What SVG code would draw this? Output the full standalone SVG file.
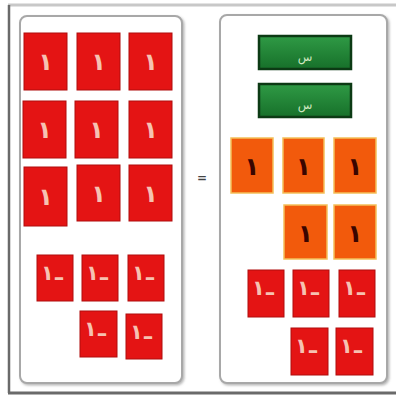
<svg xmlns="http://www.w3.org/2000/svg" width="396" height="398" viewBox="0 0 396 398">
<defs>
<linearGradient id="gr" x1="0" y1="0" x2="0" y2="1">
<stop offset="0" stop-color="#2f9a45"/><stop offset="1" stop-color="#17702a"/>
</linearGradient>
<filter id="sh" x="-5%" y="-5%" width="110%" height="110%"><feDropShadow dx="1.5" dy="1.5" stdDeviation="1.2" flood-color="#888" flood-opacity="0.6"/></filter>
</defs>
<style>
.panel{fill:#fff;stroke:#a8a8a8;stroke-width:2}
.red{fill:#e41414;stroke:#b00c0c;stroke-width:1}
.org{fill:#f25a0c;stroke:#f3c05a;stroke-width:1.5}
.grn{fill:url(#gr);stroke:#0c3a14;stroke-width:2.5}
.tr{font-family:"DejaVu Sans",sans-serif;font-size:24px;fill:#f6c2b2;text-anchor:middle;font-weight:bold}
.tn{font-family:"DejaVu Sans",sans-serif;font-size:21px;fill:#f6c2b2;font-weight:bold}
.to{font-family:"DejaVu Sans",sans-serif;font-size:25px;fill:#3a0500;text-anchor:middle;font-weight:bold}
.tg{font-family:"DejaVu Sans",sans-serif;font-size:12px;fill:#cfe8c0;text-anchor:middle}
.eq{font-family:"DejaVu Sans",sans-serif;font-size:12px;fill:#444;text-anchor:middle;font-weight:bold}
</style>
<rect width="396" height="398" fill="#fff"/>
<g id="frame">
<line x1="8" y1="5" x2="396" y2="5" stroke="#c8c8c8" stroke-width="3"/>
<line x1="9" y1="5" x2="9" y2="393" stroke="#6a6a6a" stroke-width="2.5"/>
<line x1="8" y1="393" x2="396" y2="393" stroke="#6a6a6a" stroke-width="3"/>
</g>
<g id="left-panel"><rect class="panel" x="20" y="16" width="162" height="367" rx="7" filter="url(#sh)"/></g>
<g id="right-panel"><rect class="panel" x="220" y="15" width="167" height="368" rx="7" filter="url(#sh)"/></g>
<g id="left-ones">
<rect class="red" x="24" y="33" width="43" height="57"/><text class="tr" x="45.5" y="70">۱</text>
<rect class="red" x="77" y="33" width="43" height="57"/><text class="tr" x="98.5" y="70">۱</text>
<rect class="red" x="129" y="33" width="43" height="57"/><text class="tr" x="150.5" y="70">۱</text>
<rect class="red" x="23" y="101" width="43" height="57"/><text class="tr" x="44.5" y="138">۱</text>
<rect class="red" x="75" y="101" width="43" height="57"/><text class="tr" x="96.5" y="138">۱</text>
<rect class="red" x="129" y="101" width="43" height="57"/><text class="tr" x="150.5" y="138">۱</text>
<rect class="red" x="24" y="167" width="43" height="59"/><text class="tr" x="45.5" y="205">۱</text>
<rect class="red" x="77" y="165" width="43" height="56"/><text class="tr" x="98.5" y="202">۱</text>
<rect class="red" x="129" y="165" width="43" height="56"/><text class="tr" x="150.5" y="202">۱</text>
</g>
<g id="left-negs">
<rect class="red" x="37" y="255" width="36" height="46"/><text class="tn" x="41" y="280">۱<tspan dy="5">–</tspan></text>
<rect class="red" x="82" y="255" width="36" height="46"/><text class="tn" x="86" y="280">۱<tspan dy="5">–</tspan></text>
<rect class="red" x="128" y="255" width="36" height="46"/><text class="tn" x="132" y="280">۱<tspan dy="5">–</tspan></text>
<rect class="red" x="80" y="311" width="37" height="46"/><text class="tn" x="84" y="336">۱<tspan dy="5">–</tspan></text>
<rect class="red" x="126" y="314" width="36" height="45"/><text class="tn" x="130" y="339">۱<tspan dy="5">–</tspan></text>
</g>
<g id="equals"><text class="eq" x="202" y="182">=</text></g>
<g id="right-x">
<rect class="grn" x="259" y="36" width="92" height="33"/><text class="tg" x="305" y="61">س</text>
<rect class="grn" x="259" y="84" width="92" height="33"/><text class="tg" x="305" y="109">س</text>
</g>
<g id="right-ones">
<rect class="org" x="231" y="138" width="42" height="55"/><text class="to" x="252" y="175">۱</text>
<rect class="org" x="283" y="138" width="41" height="55"/><text class="to" x="303.5" y="175">۱</text>
<rect class="org" x="334" y="138" width="42" height="55"/><text class="to" x="355" y="175">۱</text>
<rect class="org" x="284" y="205" width="43" height="54"/><text class="to" x="305.5" y="242">۱</text>
<rect class="org" x="334" y="205" width="42" height="54"/><text class="to" x="355" y="242">۱</text>
</g>
<g id="right-negs">
<rect class="red" x="248" y="270" width="36" height="47"/><text class="tn" x="252" y="295">۱<tspan dy="5">–</tspan></text>
<rect class="red" x="293" y="270" width="36" height="47"/><text class="tn" x="297" y="295">۱<tspan dy="5">–</tspan></text>
<rect class="red" x="339" y="270" width="36" height="47"/><text class="tn" x="343" y="295">۱<tspan dy="5">–</tspan></text>
<rect class="red" x="291" y="328" width="37" height="47"/><text class="tn" x="295" y="353">۱<tspan dy="5">–</tspan></text>
<rect class="red" x="336" y="328" width="37" height="47"/><text class="tn" x="340" y="353">۱<tspan dy="5">–</tspan></text>
</g>
</svg>
